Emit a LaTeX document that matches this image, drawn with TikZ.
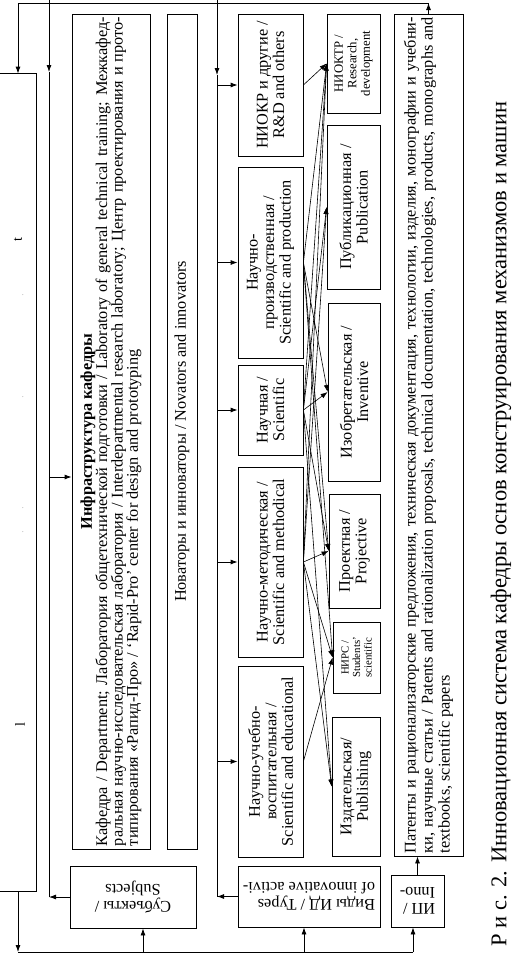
\documentclass[tikz,border=0pt]{standalone}
\usepackage{fontspec}
\setmainfont{Liberation Serif}
\usetikzlibrary{arrows.meta}
\setlength{\parindent}{0pt}

\begin{document}
\begin{tikzpicture}[x=1pt,y=-1pt,line width=0.8pt,
  font=\fontsize{16.3}{16.5}\selectfont,
  box/.style={draw,rotate=90,inner sep=2pt,align=center},
  flip/.style={draw,rotate=180,inner sep=2pt,align=left},
  arr/.style={-{Latex[length=7pt,width=5pt]}}]
\useasboundingbox (0,0) rectangle (514,954);
% outer box on the left, its text is mostly lost
\node[minimum width=36pt,minimum height=817pt,inner sep=0pt] (env) at (18,482.5) {};
\draw (env.north west) -- (env.north east) -- (env.south east) -- (env.south west);
\draw (env.north west) -- ++(0,168);
\draw (env.south west) -- ++(0,-167);
\node[rotate=90,font=\fontsize{14}{14}\selectfont] (envt) at (18,240) {t};
\node[rotate=90,font=\fontsize{14}{14}\selectfont] (envl) at (20,725) {l};
\foreach \y in {295,397,508,532}{ \node[font=\tiny,inner sep=0pt] (d\y) at (23,\y) {.}; }
% infrastructure and novators
\node[box,minimum width=835pt,minimum height=78pt,text width=829pt,align=justify,
  font=\fontsize{16.3}{15.4}\selectfont] (infra) at (111,431.5)
  {{\bfseries\centering Инфраструктура кафедры\par}
  Кафедра / Department; Лаборатория общетехнической подготовки / Laboratory of general technical training; Межкафед-\linebreak
  ральная научно-исследовательская лаборатория / Interdepartmental research laboratory; Центр проектирования и прото-\linebreak
  типирования «Рапид-Про» / `Rapid-Pro' center for design and prototyping};
\node[box,minimum width=835pt,minimum height=30pt] (nov) at (182,431.5)
  {Новаторы и инноваторы / Novators and innovators};
% types of innovative activity
\coordinate (ms) at (217,0);
\coordinate (msm) at (217,75);
\foreach \n/\y/\h/\t in {
  niokr/85/142/{НИОКР и другие /\\R\&D and others},
  npr/262.5/191/{Научно-\\производственная /\\Scientific and production},
  nauch/410/90/{Научная /\\Scientific},
  nmet/562/190/{Научно-методическая /\\Scientific and methodical},
  nuv/761.5/191/{Научно-учебно-\\воспитательная /\\Scientific and educational}}{
  \node[box,minimum width=\h pt,minimum height=65pt] (\n) at (270.5,\y) {\t};
  \draw[arr] (ms |- \n.north) -- (\n.north);
}
% kinds of results
\node[box,minimum width=99pt,minimum height=53pt,font=\fontsize{12.7}{13.5}\selectfont]
  (niokt) at (353.5,63.5) {НИОКТР /\\Research,\\development};
\node[box,minimum width=164pt,minimum height=53pt] (publ) at (353.5,207) {Публикационная /\\Publication};
\node[box,minimum width=178pt,minimum height=52pt] (izobr) at (354,392) {Изобретательская /\\Inventive};
\node[box,minimum width=114pt,minimum height=51pt] (proekt) at (354.5,551) {Проектная /\\Projective};
\node[box,minimum width=71pt,minimum height=47pt,font=\fontsize{10.8}{11.5}\selectfont]
  (nirs) at (356.5,657.5) {НИРС /\\Students'\\scientific};
\node[box,minimum width=139pt,minimum height=48pt] (izdat) at (356,786.5) {Издательская/\\Publishing};
\foreach \a/\b in {niokr/niokt,npr/niokt,npr/izobr,npr/proekt,npr/nirs,
  nauch/niokt,nauch/publ,nauch/izobr,nauch/proekt,nauch/izdat,
  nmet/niokt,nmet/publ,nmet/proekt,nmet/nirs,nmet/izdat,nuv/nirs}{
  \draw[arr,line width=0.6pt] (\a.south) -- (\b.north);
}
% results
\node[box,minimum width=842pt,minimum height=69pt,text width=836pt,align=justify,
  font=\fontsize{16.3}{17}\selectfont] (pat) at (428.5,435)
  {Патенты и рационализаторские предложения, техническая документация, технологии, изделия, монографии и учебни-\linebreak
  ки, научные статьи / Patents and rationalization proposals, technical documentation, technologies, products, monographs and\linebreak
  textbooks, scientific papers};
% lower boxes, set upside down
\node[flip,minimum width=126pt,minimum height=62pt,align=center] (subj) at (133,897) {Субъекты /\\Subjects};
\node[flip,minimum width=142pt,minimum height=61pt] (types) at (309,896.5) {Виды ИД / Types\\of innovative activi-};
\node[flip,minimum width=53pt,minimum height=52pt] (ip) at (417.5,901) {ИП /\\Inno-};
% caption
\node[rotate=90,font=\fontsize{22.5}{26}\selectfont] (cap) at (501,524)
  {Р и с. 2. Инновационная система кафедры основ конструирования механизмов и машин};
% top line, results back to the outer box
\coordinate (tl) at (18,3);
\draw[arr] (pat.east) -- (pat.east |- tl);
\draw[arr] (pat.east |- tl) -- (tl) -- (env.north);
% bottom line, outer box to the lower boxes
\coordinate (bl) at (18,952);
\draw[arr] (env.south) -- (bl);
\draw (bl) -- (413,952);
\foreach \b/\x in {subj/143,types/304,ip/413}{ \draw[arr] (\x,952) -- (\b.north -| \x,0); }
\draw[arr] (ip.south) -- (ip.south |- pat.west);
% left line, subjects to infrastructure
\coordinate (ls) at (49,0);
\coordinate (lsm) at (49,72);
\coordinate (li) at (49,477);
\draw[arr] (ls) -- (lsm);
\draw (lsm) -- (lsm |- subj.east);
\draw[arr] (subj.east) -- (subj.east -| ls);
\draw[arr] (li) -- (li -| infra.north);
% middle line, types to activity boxes
\draw[arr] (ms) -- (msm);
\draw (msm) -- (msm |- types.east);
\draw[arr] (types.east) -- (types.east -| ms);
\end{tikzpicture}
\end{document}
